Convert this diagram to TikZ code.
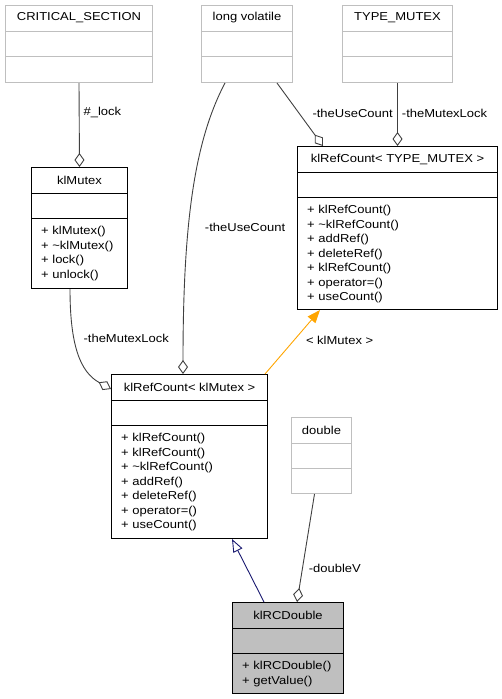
\documentclass[tikz,border=0pt]{standalone}
\usepackage{fontspec}
\setmainfont{Liberation Sans}[FakeStretch=1.13]
\usepackage{tikz}
\usetikzlibrary{arrows.meta,positioning,calc}

\definecolor{boxgrey}{HTML}{BFBFBF}
\definecolor{edgegrey}{HTML}{404040}
\definecolor{inhblue}{HTML}{191970}
\definecolor{tmplorange}{HTML}{FFA500}

\newcommand{\dxfont}{\fontsize{11.5}{14.5}\selectfont}

\tikzset{
  classbox/.style={draw=black, line width=1pt},
  extbox/.style={draw=boxgrey, line width=1pt},
  curbox/.style={draw=black, fill=boxgrey, line width=1pt},
  classtext/.style={font=\dxfont, inner sep=0pt},
  methods/.style={font=\dxfont, inner sep=0pt, align=left, anchor=north west},
  lbl/.style={font=\dxfont, inner sep=0pt, anchor=west},
  aggr/.style={draw=edgegrey, line width=0.9pt, -{Diamond[open, length=14pt, width=10pt]}},
  inherit/.style={draw=inhblue, line width=0.9pt, -{Triangle[open, length=13pt, width=10pt]}},
  tmpl/.style={draw=tmplorange, line width=0.9pt, -{Triangle[length=13pt, width=10pt]}}
}

% one class: box, title row, empty attribute row, method list
\newcommand{\umlclass}[7][classbox]{%
  \node[#1, rectangle, inner sep=0pt, minimum width=#4pt, minimum height=#5pt, anchor=north west] (#2) at (#3) {};
  \node[classtext] at ($(#2.north)+(0,13)$) {#6};
  \draw[#1, fill=none] ($(#2.north west)+(0,26)$) -- ($(#2.north east)+(0,26)$);
  \draw[#1, fill=none] ($(#2.north west)+(0,51)$) -- ($(#2.north east)+(0,51)$);
  \node[methods] at ($(#2.north west)+(10,59)$) {#7};
}

\begin{document}
\begin{tikzpicture}[x=1pt, y=-1pt]
  \useasboundingbox (0,0) rectangle (502,699);

  % classes
  \umlclass[extbox]{critsec}{5,5}{147}{77}{CRITICAL\_SECTION}{}
  \umlclass[extbox]{longvol}{201,5}{91}{77}{long volatile}{}
  \umlclass[extbox]{typemutex}{342,5}{110}{77}{TYPE\_MUTEX}{}
  \umlclass{klmutex}{31,167}{96}{121}{klMutex}{+ klMutex()\\+ \textasciitilde klMutex()\\+ lock()\\+ unlock()}
  \umlclass{refcounttm}{297,146}{200}{163}{klRefCount< TYPE\_MUTEX >}{+ klRefCount()\\+ \textasciitilde klRefCount()\\+ addRef()\\+ deleteRef()\\+ klRefCount()\\+ operator=()\\+ useCount()}
  \umlclass{refcountkm}{111,374}{156}{164}{klRefCount< klMutex >}{+ klRefCount()\\+ klRefCount()\\+ \textasciitilde klRefCount()\\+ addRef()\\+ deleteRef()\\+ operator=()\\+ useCount()}
  \umlclass[extbox]{dbl}{291,417}{60}{76}{double}{}
  \umlclass[curbox]{rcdouble}{232,602}{111}{91}{klRCDouble}{+ klRCDouble()\\+ getValue()}

  % connectors
  \draw[aggr] (critsec.south) -- (klmutex.north)
    node[lbl, pos=.35, xshift=4pt] {\#\_lock};
  \draw[aggr] ($(longvol.south east)+(-16,0)$) -- ($(refcounttm.north west)+(26,0)$)
    node[lbl, pos=.48, xshift=13pt] {-theUseCount};
  \draw[aggr] (typemutex.south) -- (refcounttm.north)
    node[lbl, pos=.48, xshift=4pt] {-theMutexLock};
  \draw[aggr] ($(longvol.south west)+(24,0)$) .. controls (195,140) and (183,220) .. ($(refcountkm.north west)+(72,0)$)
    node[lbl, pos=.62, xshift=16pt] {-theUseCount};
  \draw[aggr] ($(klmutex.south west)+(39,0)$) .. controls (70,345) and (80,372) .. ($(refcountkm.north west)+(0,15)$)
    node[lbl, pos=.35, xshift=9pt] {-theMutexLock};
  \draw[tmpl] ($(refcountkm.north east)+(-3,0)$) -- ($(refcounttm.south west)+(23,0)$)
    node[lbl, pos=.52, xshift=12pt] {< klMutex >};
  \draw[inherit] ($(rcdouble.north west)+(32,0)$) -- ($(refcountkm.south west)+(121,0)$);
  \draw[aggr] ($(dbl.south)+(-7,0)$) -- ($(rcdouble.north west)+(65,0)$)
    node[lbl, pos=.69, xshift=6pt] {-doubleV};
\end{tikzpicture}
\end{document}
